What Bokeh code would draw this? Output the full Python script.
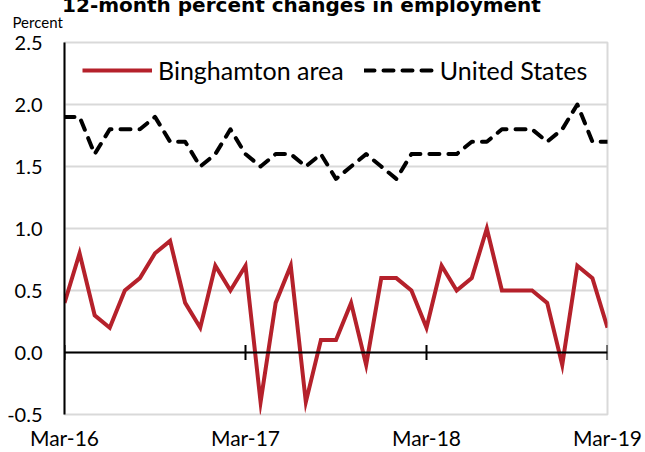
from bokeh.plotting import figure
from bokeh.models import (Range1d, FixedTicker, NumeralTickFormatter, Span, Label,
                          ColumnDataSource, Legend, LegendItem, LinearAxis)
from bokeh.embed import file_html
from bokeh.resources import INLINE

months = ["Mar-16", "Apr-16", "May-16", "Jun-16", "Jul-16", "Aug-16", "Sep-16", "Oct-16",
          "Nov-16", "Dec-16", "Jan-17", "Feb-17", "Mar-17", "Apr-17", "May-17", "Jun-17",
          "Jul-17", "Aug-17", "Sep-17", "Oct-17", "Nov-17", "Dec-17", "Jan-18", "Feb-18",
          "Mar-18", "Apr-18", "May-18", "Jun-18", "Jul-18", "Aug-18", "Sep-18", "Oct-18",
          "Nov-18", "Dec-18", "Jan-19", "Feb-19", "Mar-19"]
binghamton = [0.4, 0.8, 0.3, 0.2, 0.5, 0.6, 0.8, 0.9, 0.4, 0.2, 0.7, 0.5, 0.7,
              -0.4, 0.4, 0.7, -0.4, 0.1, 0.1, 0.4, -0.1, 0.6, 0.6, 0.5, 0.2,
              0.7, 0.5, 0.6, 1.0, 0.5, 0.5, 0.5, 0.4, -0.1, 0.7, 0.6, 0.2]
united_states = [1.9, 1.9, 1.6, 1.8, 1.8, 1.8, 1.9, 1.7, 1.7, 1.5, 1.6, 1.8, 1.6,
                 1.5, 1.6, 1.6, 1.5, 1.6, 1.4, 1.5, 1.6, 1.5, 1.4, 1.6, 1.6,
                 1.6, 1.6, 1.7, 1.7, 1.8, 1.8, 1.8, 1.7, 1.8, 2.0, 1.7, 1.7]
tick_months = ["Mar-16", "Mar-17", "Mar-18", "Mar-19"]
y_ticks = [-0.5, 0.0, 0.5, 1.0, 1.5, 2.0, 2.5]
series_names = ["Binghamton area", "United States"]
title_text = "12-month percent changes in employment"
unit_text = "Percent"

FONT = "Lato"
RED = "#B5212B"
GRID = "#D9D9D9"

x = list(range(len(months)))
tick_idx = [months.index(m) for m in tick_months]

p = figure(width=645, height=452, output_backend="svg", toolbar_location=None,
           x_range=Range1d(x[0], x[-1]), y_range=Range1d(y_ticks[0], y_ticks[-1]),
           x_axis_location=None,
           min_border_left=64, min_border_right=38, min_border_top=42, min_border_bottom=36)
p.background_fill_color = "white"
p.border_fill_color = "white"
p.outline_line_color = GRID
p.outline_line_width = 2

p.xgrid.visible = False
p.ygrid.ticker = FixedTicker(ticks=y_ticks)
p.ygrid.grid_line_color = GRID
p.ygrid.grid_line_width = 2

ax = p.yaxis[0]
ax.ticker = FixedTicker(ticks=y_ticks)
ax.formatter = NumeralTickFormatter(format="0.0")
ax.major_tick_line_color = None
ax.minor_tick_line_color = None
ax.major_tick_out = 0
ax.minor_tick_out = 0
ax.axis_line_color = "black"
ax.axis_line_width = 2
ax.major_label_standoff = 22
ax.major_label_text_font = FONT
ax.major_label_text_font_size = "20px"
ax.major_label_text_color = "black"

# month labels under the plot area
xax = LinearAxis(ticker=FixedTicker(ticks=tick_idx),
                 major_label_overrides={i: m for i, m in zip(tick_idx, tick_months)})
xax.axis_line_color = None
xax.major_tick_line_color = None
xax.minor_tick_line_color = None
xax.major_tick_out = 0
xax.minor_tick_out = 0
xax.major_label_standoff = 10
xax.major_label_text_font = FONT
xax.major_label_text_font_size = "21px"
xax.major_label_text_color = "black"
p.add_layout(xax, "below")

# zero line with tick marks
p.add_layout(Span(location=0, dimension="width", line_color="black", line_width=2))
tsrc = ColumnDataSource(dict(x=tick_idx, y=[0] * len(tick_idx)))
p.scatter("x", "y", source=tsrc, marker="dash", angle=1.5708, size=15,
          line_color="black", line_width=2)

r1 = p.line(x, binghamton, line_color=RED, line_width=4, line_join="miter")
r2 = p.line(x, united_states, line_color="black", line_width=4, line_dash="10 9",
            line_cap="round", line_join="round")

legend = Legend(items=[LegendItem(label=series_names[0], renderers=[r1]),
                       LegendItem(label=series_names[1], renderers=[r2])],
                orientation="horizontal", location=(18, 329), glyph_width=70,
                glyph_height=24, label_standoff=6, spacing=20, padding=0, margin=0,
                border_line_color=None, background_fill_alpha=0,
                label_text_font=FONT, label_text_font_size="25px",
                label_text_color="black")
p.add_layout(legend)

p.add_layout(Label(x=p.x_range.start, y=p.y_range.end, x_offset=-52, y_offset=21,
                   text=unit_text, text_font=FONT, text_font_size="15px",
                   text_baseline="alphabetic", text_color="black"), "above")
p.add_layout(Label(x=p.x_range.start, y=p.y_range.end, x_offset=237, y_offset=38,
                   text=title_text, text_font="DejaVu Sans", text_font_size="20px",
                   text_font_style="bold", text_align="center",
                   text_baseline="alphabetic", text_color="black"), "above")

open("out.html", "w").write(file_html(p, INLINE))
